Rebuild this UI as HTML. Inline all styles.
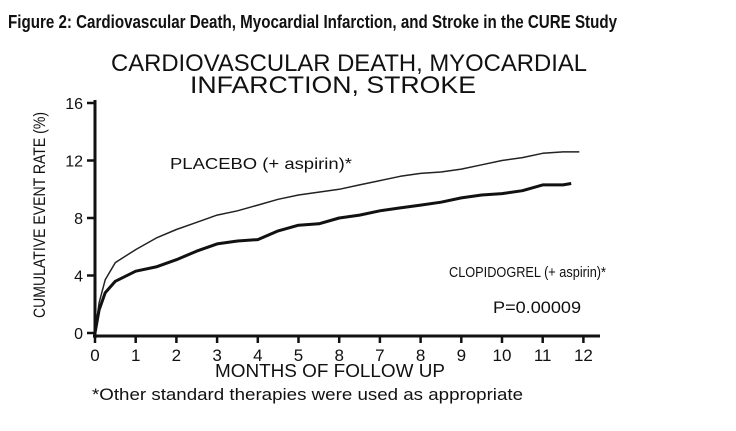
<!DOCTYPE html>
<html><head><meta charset="utf-8"><style>
html,body{margin:0;padding:0;background:#fff;width:736px;height:431px;overflow:hidden}
svg{display:block}
text{font-family:"Liberation Sans",sans-serif;fill:#111}
</style></head><body>
<svg id="chart" width="736" height="431" viewBox="0 0 736 431">
<text x="8" y="28" font-size="18" font-weight="bold" textLength="609" lengthAdjust="spacingAndGlyphs">Figure 2: Cardiovascular Death, Myocardial Infarction, and Stroke in the CURE Study</text>
<text x="111" y="71" font-size="24" textLength="476" lengthAdjust="spacingAndGlyphs">CARDIOVASCULAR DEATH, MYOCARDIAL</text>
<text x="190" y="93" font-size="24" textLength="286" lengthAdjust="spacingAndGlyphs">INFARCTION, STROKE</text>
<text transform="translate(45,215) rotate(-90)" text-anchor="middle" font-size="17" textLength="206" lengthAdjust="spacingAndGlyphs">CUMULATIVE EVENT RATE (%)</text>
<text x="330" y="377" text-anchor="middle" font-size="18" textLength="230" lengthAdjust="spacingAndGlyphs">MONTHS OF FOLLOW UP</text>
<text x="92" y="400" font-size="17" textLength="431" lengthAdjust="spacingAndGlyphs">*Other standard therapies were used as appropriate</text>
<text x="170" y="169" font-size="16" textLength="182" lengthAdjust="spacingAndGlyphs">PLACEBO (+ aspirin)*</text>
<text x="449" y="277" font-size="15" textLength="157" lengthAdjust="spacingAndGlyphs">CLOPIDOGREL (+ aspirin)*</text>
<text x="493" y="313" font-size="17" textLength="88" lengthAdjust="spacingAndGlyphs">P=0.00009</text>
<g id="axes"></g>
<g id="series"></g>
</svg>
<script>
const yTicks = [0, 4, 8, 12, 16];
const xTicks = [0,1,2,3,4,5,6,7,8,9,10,11,12];
const xTickLabels = ["0","1","2","3","4","5","8","7","8","9","10","11","12"];
const placeboMonths = [0,0.1,0.25,0.5,1,1.5,2,2.5,3,3.5,4,4.5,5,5.5,6,6.5,7,7.5,8,8.5,9,9.5,10,10.5,11,11.5,11.9];
const placeboRate = [0,2.1,3.7,4.9,5.8,6.6,7.2,7.7,8.2,8.5,8.9,9.3,9.6,9.8,10.0,10.3,10.6,10.9,11.1,11.2,11.4,11.7,12.0,12.2,12.5,12.6,12.6];
const clopMonths = [0,0.1,0.25,0.5,1,1.5,2,2.5,3,3.5,4,4.5,5,5.5,6,6.5,7,7.5,8,8.5,9,9.5,10,10.5,11,11.5,11.7];
const clopRate = [0,1.6,2.8,3.6,4.3,4.6,5.1,5.7,6.2,6.4,6.5,7.1,7.5,7.6,8.0,8.2,8.5,8.7,8.9,9.1,9.4,9.6,9.7,9.9,10.3,10.3,10.4];

const NS='http://www.w3.org/2000/svg';
const x = m => 95 + m*40.7;
const y = v => 333 - v*14.375;
const axes = document.getElementById('axes');
const series = document.getElementById('series');
function mk(tag, attrs, parent){const e=document.createElementNS(NS,tag);for(const k in attrs)e.setAttribute(k,attrs[k]);parent.appendChild(e);return e;}

let e = mk('line',{x1:95,y1:100,x2:95,y2:338,stroke:'#111','stroke-width':3},axes);


e = mk('line',{x1:93,y1:336,x2:600,y2:336,stroke:'#111','stroke-width':3},axes);



yTicks.forEach(v=>{
  const t = mk('line',{x1:87,y1:y(v),x2:95,y2:y(v),stroke:'#111','stroke-width':2.5},axes);
  
  
  const l = mk('text',{x:83,y:y(v)+6,'text-anchor':'end','font-size':16},axes);
  l.textContent=String(v);
  
  
});
xTicks.forEach((m,i)=>{
  const t = mk('line',{x1:x(m),y1:336,x2:x(m),y2:343,stroke:'#111','stroke-width':2.5},axes);
  
  
  const l = mk('text',{x:x(m),y:361,'text-anchor':'middle','font-size':17},axes);
  l.textContent=xTickLabels[i];
  
  
});
function path(ms, vs){return ms.map((m,i)=>(i?'L':'M')+x(m).toFixed(1)+','+y(vs[i]).toFixed(1)).join(' ');}
e = mk('path',{d:path(placeboMonths,placeboRate),fill:'none',stroke:'#222','stroke-width':1.5,'stroke-linejoin':'round'},series);


e = mk('path',{d:path(clopMonths,clopRate),fill:'none',stroke:'#111','stroke-width':3,'stroke-linejoin':'round'},series);


</script>
</body></html>
